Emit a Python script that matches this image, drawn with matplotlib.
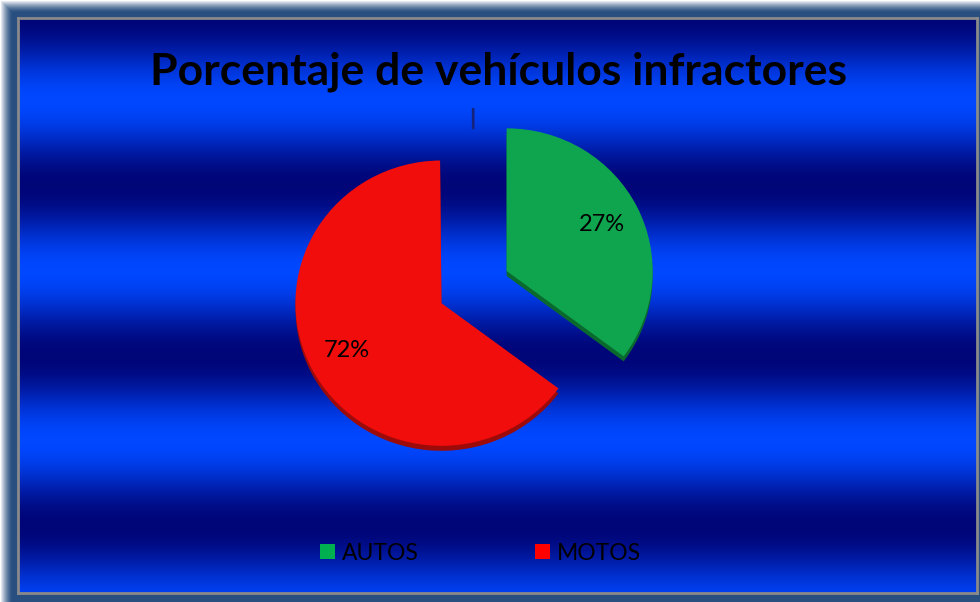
import matplotlib.pyplot as plt
from matplotlib.patches import Patch
import numpy as np

# datos
categorias = ['AUTOS', 'MOTOS']
etiquetas = ['27%', '72%']
# tamaño de cada porción tal como se ve dibujada (la última es la raya sin nombre arriba)
porciones = [35.2, 64.65, 0.15]
colores_cara = ['#0fa54e', '#f20d0d', 'none']
colores_lado = ['#0a6a2e', '#9c0a0a', 'none']
colores_leyenda = ['#00b050', '#ff0000']
color_raya = '#16237a'

W, H = 980, 602
fuente = ['Lato', 'DejaVu Sans']
fig = plt.figure(figsize=(W / 100, H / 100), dpi=100)

# marco exterior azul acero con brillo blanco arriba/izquierda
bg = fig.add_axes([0, 0, 1, 1])
yy, xx = np.mgrid[0:H, 0:W]
brillo = np.clip(1 - np.minimum(xx, yy) / 12.0, 0, 1) ** 1.5
acero = np.array([0.16, 0.31, 0.50])
img = acero[None, None, :] * (1 - brillo[..., None]) + brillo[..., None]
bg.imshow(img, extent=[0, W, H, 0], aspect='auto')
bg.set_xlim(0, W)
bg.set_ylim(H, 0)
bg.axis('off')

# fondo con bandas horizontales azul oscuro / azul claro
x0, x1, y0, y1 = 18, 977, 18, 593
fondo = fig.add_axes([x0 / W, (H - y1) / H, (x1 - x0) / W, (y1 - y0) / H])
ys = np.arange(y0, y1)
t = (1 - np.cos(2 * np.pi * (ys - 15) / 170.0)) / 2
oscuro = np.array([0.0, 0.02, 0.47])
claro = np.array([0.0, 0.28, 1.0])
bandas = oscuro + (claro - oscuro) * t[:, None]
fondo.imshow(np.repeat(bandas[:, None, :], 4, axis=1), aspect='auto',
             extent=[0, 1, 1, 0], interpolation='bilinear')
fondo.set_xticks([])
fondo.set_yticks([])
for s in fondo.spines.values():
    s.set_color('#8a8a8a')
    s.set_linewidth(2)

# pastel (centro en px 474,287 ; radio 146 px, un poco achatado por la vista 3D)
cx, cy, half_x, half_y = 474, 287, 219, 214
ax = fig.add_axes([(cx - half_x) / W, (H - cy - half_y) / H,
                   2 * half_x / W, 2 * half_y / H])
ax.patch.set_alpha(0)
explode = [0.25] * len(porciones)

# canto 3D
ax.pie(porciones, colors=colores_lado, startangle=90, counterclock=False,
       explode=explode, center=(0, -0.035), wedgeprops=dict(linewidth=0))
# cara superior
cuñas, _, autotextos = ax.pie(porciones, colors=colores_cara, startangle=90,
                              counterclock=False, explode=explode,
                              autopct=lambda p: '', pctdistance=0.73,
                              wedgeprops=dict(linewidth=0))
for txt, s in zip(autotextos, etiquetas):
    txt.set_text(s)
    txt.set_fontsize(17)
    txt.set_family(fuente)
    txt.set_color('black')

# raya delgada de la porción sin nombre
anillo, _ = ax.pie(porciones, colors=['none', 'none', color_raya], startangle=90,
                   counterclock=False, explode=explode, radius=1.0,
                   wedgeprops=dict(width=0.14, linewidth=0))
anillo[-1].set_edgecolor(color_raya)
anillo[-1].set_linewidth(1.0)

ax.set_aspect('auto')
ax.set_xlim(-1.5, 1.5)
ax.set_ylim(-1.5, 1.5)
ax.axis('off')

# título
fig.text(498.5 / W, 1 - 84 / H, 'Porcentaje de vehículos infractores',
         ha='center', va='baseline', fontsize=32, fontweight='bold',
         family=fuente, color='black')

# leyenda
fig.legend(handles=[Patch(facecolor=c, edgecolor='none') for c in colores_leyenda],
           labels=categorias, ncol=2, loc='center',
           bbox_to_anchor=(480.5 / W, 1 - 553 / H), frameon=False,
           prop=dict(family=fuente, size=16.5), handlelength=0.62,
           handleheight=0.62, handletextpad=0.3, columnspacing=5.1)

plt.savefig('out.png', dpi=100)
